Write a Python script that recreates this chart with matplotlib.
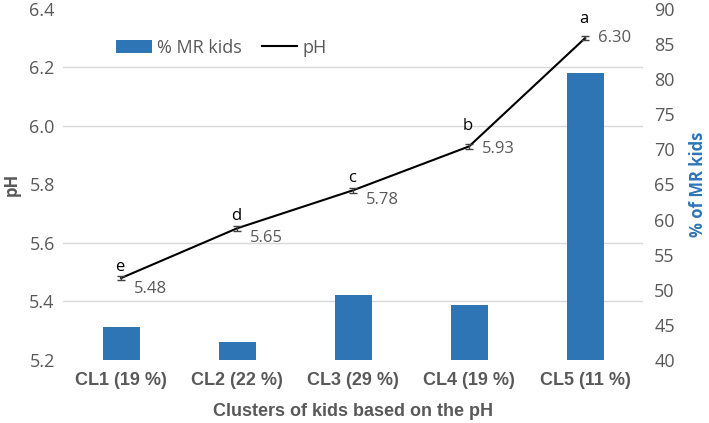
import numpy as np
import matplotlib
matplotlib.use("Agg")
import matplotlib.pyplot as plt
from matplotlib.ticker import FixedLocator, MultipleLocator, FormatStrFormatter

# data
clusters = ["CL1 (19 %)", "CL2 (22 %)", "CL3 (29 %)", "CL4 (19 %)", "CL5 (11 %)"]
ph_values = [5.48, 5.65, 5.78, 5.93, 6.30]
ph_errors = [0.008, 0.008, 0.008, 0.008, 0.008]
ph_letters = ["e", "d", "c", "b", "a"]
mr_kids = [44.7, 42.6, 49.3, 47.9, 80.9]

blue = "#2E75B6"
grey = "#595959"
grid_col = "#D9D9D9"
tick_font = ["Open Sans", "DejaVu Sans"]
bold_font = ["Liberation Sans", "DejaVu Sans"]

fig, ax = plt.subplots(figsize=(7.09, 4.23), dpi=100)
fig.subplots_adjust(left=0.089, right=0.907, bottom=0.149, top=0.979)
ax2 = ax.twinx()

x = np.arange(len(clusters))

# bars on the right axis, drawn underneath
bars = ax2.bar(x, mr_kids, width=0.32, color=blue, zorder=2, label="% MR kids")
ax2.set_ylim(40, 90)
ax2.yaxis.set_major_locator(MultipleLocator(5))
ax2.yaxis.set_minor_locator(FixedLocator(np.linspace(40, 90, 7)))
ax2.grid(which="minor", axis="y", color=grid_col, linewidth=1, zorder=0)
ax2.set_axisbelow(True)
ax2.tick_params(axis="y", which="both", length=0, labelcolor=grey, labelsize=13, pad=8)
for lab in ax2.get_yticklabels():
    lab.set_family(tick_font)
ax2.set_ylabel("% of MR kids", color=blue, fontsize=12, fontweight="bold",
               family=tick_font, labelpad=10)

# pH line on the left axis, on top
ax.set_zorder(ax2.get_zorder() + 1)
ax.patch.set_visible(False)
line, = ax.plot(x, ph_values, color="black", linewidth=1.5, zorder=3, label="pH")
ax.errorbar(x, ph_values, yerr=ph_errors, fmt="none", ecolor="#404040",
            elinewidth=1, capsize=3, zorder=3)
ax.set_ylim(5.2, 6.4)
ax.set_xlim(-0.5, len(clusters) - 0.5)
ax.yaxis.set_major_locator(MultipleLocator(0.2))
ax.yaxis.set_major_formatter(FormatStrFormatter("%.1f"))
ax.tick_params(axis="y", length=0, labelcolor=grey, labelsize=13, pad=6)
ax.tick_params(axis="x", length=0, labelcolor=grey, labelsize=13, pad=9)
for lab in ax.get_yticklabels():
    lab.set_family(tick_font)
ax.set_xticks(x)
ax.set_xticklabels(clusters, fontweight="bold", family=bold_font)
ax.set_ylabel("pH", color=grey, fontsize=12, fontweight="bold", family=tick_font, labelpad=6)
ax.set_xlabel("Clusters of kids based on the pH", color=grey, fontsize=13,
              fontweight="bold", family=bold_font, labelpad=10)

for a in (ax, ax2):
    for s in a.spines.values():
        s.set_visible(False)

# letters above points and values to the right
letter_dy = [8, 9, 9, 15, 14]
value_dy = [-8, -7, -7, -2, 0]
for i, (v, letter) in enumerate(zip(ph_values, ph_letters)):
    ax.annotate(letter, (x[i], v), xytext=(-1, letter_dy[i]), textcoords="offset points",
                ha="center", va="center", fontsize=12, family=tick_font, color="black")
    ax.annotate(f"{v:.2f}", (x[i], v), xytext=(9, value_dy[i]), textcoords="offset points",
                ha="left", va="center", fontsize=12, family=tick_font, color=grey)

ax.legend([bars, line], ["% MR kids", "pH"], loc="center left",
          bbox_to_anchor=(0.064, 0.89), ncol=2, frameon=False,
          prop={"family": tick_font, "size": 13}, handlelength=1.95,
          handletextpad=0.3, columnspacing=1.1, labelcolor=grey)

fig.savefig("out.png", dpi=100)
